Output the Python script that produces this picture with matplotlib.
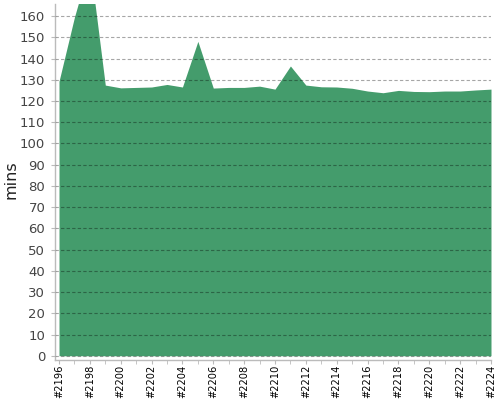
import matplotlib
matplotlib.use("Agg")
import matplotlib.pyplot as plt
import numpy as np

builds = list(range(2196, 2225))
durations = [129.3, 159.5, 185.0, 127.5, 126.2, 126.4, 126.6, 127.8, 126.6, 148.1,
             126.1, 126.4, 126.4, 127.0, 125.6, 136.5, 127.5, 126.7, 126.6, 126.0,
             124.7, 123.9, 125.0, 124.5, 124.4, 124.7, 124.7, 125.2, 125.6]
tick_labels = ["#%d" % b for b in builds]

fig = plt.figure(figsize=(5, 4), dpi=100)
ax = fig.add_axes([0.11, 0.10, 0.872, 0.89])

x = np.arange(len(builds))
ax.fill_between(x, 0, durations, color="#449c6c", linewidth=0, zorder=1)

ax.set_xlim(-0.26, len(builds) - 1)
ax.set_ylim(-2.0, 165.7)

ax.set_yticks(np.arange(0, 161, 10))
ax.set_xticks(x[::2])
ax.set_xticklabels(tick_labels[::2], rotation=90, fontsize=7.1, color="#000000")
ax.set_xticks(x, minor=True)
ax.tick_params(axis="y", labelsize=9.5, labelcolor="#444444", length=3, color="#bbbbbb", pad=4)
ax.tick_params(axis="x", which="both", length=3, color="#bbbbbb", pad=0.5)

ax.yaxis.grid(True, linestyle=(0, (3, 2)), color="#000000", alpha=0.35, linewidth=0.8, zorder=2)
ax.set_axisbelow(False)
ax.xaxis.grid(False)

for s in ["top", "right"]:
    ax.spines[s].set_visible(False)
for s in ["left", "bottom"]:
    ax.spines[s].set_color("#bbbbbb")
    ax.spines[s].set_linewidth(1.0)

ax.set_ylabel("mins", fontsize=11.5, color="#222222")
ax.yaxis.set_label_coords(-0.083, 0.506)

fig.savefig("out.png", dpi=100)
